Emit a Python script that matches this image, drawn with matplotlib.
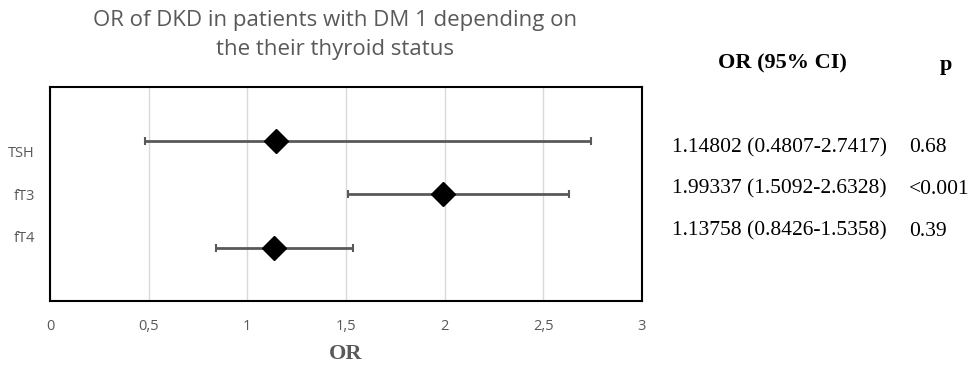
import matplotlib
matplotlib.use('Agg')
import matplotlib.pyplot as plt

# data
markers = ['TSH', 'fT3', 'fT4']
odds = [1.14802, 1.99337, 1.13758]
ci_low = [0.4807, 1.5092, 0.8426]
ci_high = [2.7417, 2.6328, 1.5358]
pvals = ['0.68', '<0.001', '0.39']
rows = [3, 2, 1]
label_pos = [2.8, 2.0, 1.2]
xticks = [0, 0.5, 1, 1.5, 2, 2.5, 3]
xticklabels = ['0', '0,5', '1', '1,5', '2', '2,5', '3']

gray = '#595959'

fig = plt.figure(figsize=(9.71, 3.69), dpi=100)
ax = fig.add_axes([0.0515, 0.184, 0.6095, 0.58])

err = [[o - l for o, l in zip(odds, ci_low)], [h - o for o, h in zip(odds, ci_high)]]
ax.errorbar(odds, rows, xerr=err, fmt='D', color='black', markersize=12,
            ecolor=gray, elinewidth=2, capsize=3, capthick=1.5, zorder=3)

ax.set_xlim(0, 3)
ax.set_ylim(0, 4)
ax.set_xticks(xticks)
ax.set_xticklabels(xticklabels, family='Open Sans', fontsize=10.5, color=gray)
ax.set_yticks(label_pos)
ax.set_yticklabels(markers, family='Open Sans', fontsize=10.5, color=gray)
ax.tick_params(axis='x', length=0, pad=13)
ax.tick_params(axis='y', length=0, pad=11)
ax.grid(axis='x', color='#d9d9d9', lw=1)
ax.set_axisbelow(True)
for s in ax.spines.values():
    s.set_linewidth(1.5)
    s.set_color('black')

ax.set_xlabel('OR', family='Liberation Serif', fontweight='bold', fontsize=16,
              color=gray, labelpad=7)

fig.text(0.345, 1 - 35 / 369, 'OR of DKD in patients with DM 1 depending on\nthe their thyroid status',
         ha='center', va='center', family='Open Sans', fontsize=16, color=gray,
         linespacing=1.45)

# right-hand table
fig.text(847 / 971, 1 - 63 / 369, 'OR (95% CI)', ha='right', va='center',
         family='Liberation Serif', fontweight='bold', fontsize=16)
fig.text(946 / 971, 1 - 65 / 369, 'p', ha='center', va='center',
         family='Liberation Serif', fontweight='bold', fontsize=16)
row_y = [148, 189, 231]
for o, l, h, p, y in zip(odds, ci_low, ci_high, pvals, row_y):
    fig.text(672 / 971, 1 - y / 369, f'{o:.5f} ({l:.4f}-{h:.4f})', ha='left', va='center',
             family='Liberation Serif', fontsize=15.5)
    fig.text(909 / 971, 1 - y / 369, p, ha='left', va='center',
             family='Liberation Serif', fontsize=15.5)

fig.savefig('out.png', dpi=100)
